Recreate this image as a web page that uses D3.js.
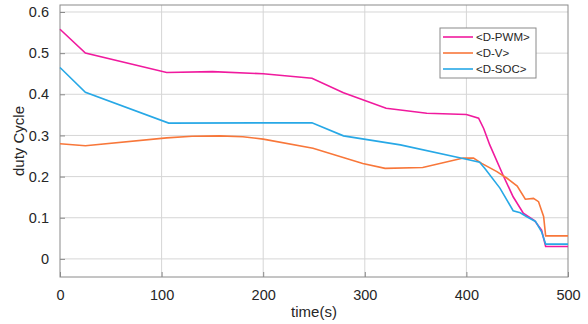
<!DOCTYPE html>
<html>
<head>
<meta charset="utf-8">
<script src="https://cdn.jsdelivr.net/npm/d3@7"></script>
<style>
  body { margin: 0; background: #fff; }
  text { font-family: "Liberation Sans", Arial, sans-serif; fill: #262626; }
</style>
</head>
<body>
<div id="chart"></div>
<script>
// values
var tPWM = [0, 25, 105, 150, 200, 248, 279, 321, 335, 361, 400, 412, 417, 423, 436, 446, 456, 467, 474, 478, 500];
var dPWM = [0.558, 0.500, 0.453, 0.455, 0.450, 0.439, 0.404, 0.366, 0.362, 0.354, 0.351, 0.342, 0.317, 0.277, 0.204, 0.151, 0.111, 0.093, 0.070, 0.030, 0.030];

var tV = [0, 25, 105, 130, 157, 180, 200, 249, 298, 320, 357, 397, 407, 415, 430, 440, 450, 458, 466, 471, 476, 478, 500];
var dV = [0.280, 0.275, 0.294, 0.298, 0.299, 0.297, 0.291, 0.269, 0.232, 0.220, 0.222, 0.245, 0.245, 0.232, 0.212, 0.196, 0.177, 0.145, 0.147, 0.139, 0.103, 0.056, 0.056];

var tSOC = [0, 25, 107, 248, 279, 335, 400, 413, 418, 433, 446, 453, 459, 468, 474, 478, 500];
var dSOC = [0.465, 0.405, 0.330, 0.331, 0.299, 0.277, 0.242, 0.235, 0.220, 0.172, 0.117, 0.112, 0.103, 0.091, 0.066, 0.036, 0.036];

var seriesNames = ["<D-PWM>", "<D-V>", "<D-SOC>"];
var seriesColors = ["#f01a9e", "#f8773a", "#27a8e6"];
var xTicks = [0, 100, 200, 300, 400, 500];
var yTicks = [0, 0.1, 0.2, 0.3, 0.4, 0.5, 0.6];

var width = 588, height = 324;
var pLeft = 60, pRight = 568, pTop = 5, pBottom = 277;

var svg = d3.select("#chart").append("svg")
    .attr("width", width)
    .attr("height", height);

var x = d3.scaleLinear().domain([0, 500]).range([pLeft, pRight]);
var y = d3.scaleLinear().domain([-0.044, 0.617]).range([pBottom, pTop]);

// grid
svg.append("g").selectAll("line")
    .data(xTicks.slice(1, -1))
    .enter().append("line")
    .attr("x1", function(d) { return x(d); })
    .attr("x2", function(d) { return x(d); })
    .attr("y1", pTop).attr("y2", pBottom)
    .attr("stroke", "#d6d6d6").attr("stroke-width", 1);

svg.append("g").selectAll("line")
    .data(yTicks)
    .enter().append("line")
    .attr("x1", pLeft).attr("x2", pRight)
    .attr("y1", function(d) { return y(d); })
    .attr("y2", function(d) { return y(d); })
    .attr("stroke", "#d6d6d6").attr("stroke-width", 1);

// axes (ticks inside, like matlab)
var xAxis = d3.axisBottom(x).tickValues(xTicks).tickSizeInner(-5).tickSizeOuter(0).tickPadding(13);
var yAxis = d3.axisLeft(y).tickValues(yTicks).tickSizeInner(-5).tickSizeOuter(0).tickPadding(11)
    .tickFormat(function(d) { return d === 0 ? "0" : d3.format(".1f")(d); });

var gx = svg.append("g").attr("transform", "translate(0," + pBottom + ")").call(xAxis);
var gy = svg.append("g").attr("transform", "translate(" + pLeft + ",0)").call(yAxis);
[gx, gy].forEach(function(g) {
    g.select(".domain").remove();
    g.selectAll(".tick line").attr("stroke", "#8a8a8a");
    g.selectAll(".tick text").attr("font-size", "14.5px").style("fill", "#262626");
});

// box
svg.append("rect")
    .attr("x", pLeft).attr("y", pTop)
    .attr("width", pRight - pLeft).attr("height", pBottom - pTop)
    .attr("fill", "none").attr("stroke", "#8a8a8a").attr("stroke-width", 1);

// lines
var line = d3.line()
    .x(function(d) { return x(d[0]); })
    .y(function(d) { return y(d[1]); });

var series = [d3.zip(tPWM, dPWM), d3.zip(tV, dV), d3.zip(tSOC, dSOC)];
series.forEach(function(s, i) {
    svg.append("path")
        .datum(s)
        .attr("d", line)
        .attr("fill", "none")
        .attr("stroke", seriesColors[i])
        .attr("stroke-width", 1.6);
});

// legend
var lg = svg.append("g").attr("transform", "translate(440,28)");
lg.append("rect")
    .attr("width", 96).attr("height", 50)
    .attr("fill", "#fff").attr("stroke", "#8a8a8a").attr("stroke-width", 1);

var items = lg.selectAll(".item")
    .data(seriesNames)
    .enter().append("g")
    .attr("class", "item")
    .attr("transform", function(d, i) { return "translate(0," + (9 + i * 16) + ")"; });

items.append("line")
    .attr("x1", 3).attr("x2", 33)
    .attr("stroke", function(d, i) { return seriesColors[i]; })
    .attr("stroke-width", 1.6);

items.append("text")
    .attr("x", 36).attr("dy", "0.35em")
    .attr("font-size", "11.5px")
    .text(function(d) { return d; });

// axis labels
svg.append("text")
    .attr("x", (pLeft + pRight) / 2).attr("y", 317)
    .attr("text-anchor", "middle")
    .attr("font-size", "15px")
    .text("time(s)");

svg.append("text")
    .attr("transform", "translate(24," + ((pTop + pBottom) / 2) + ") rotate(-90)")
    .attr("text-anchor", "middle")
    .attr("font-size", "15px")
    .text("duty Cycle");
</script>
</body>
</html>
